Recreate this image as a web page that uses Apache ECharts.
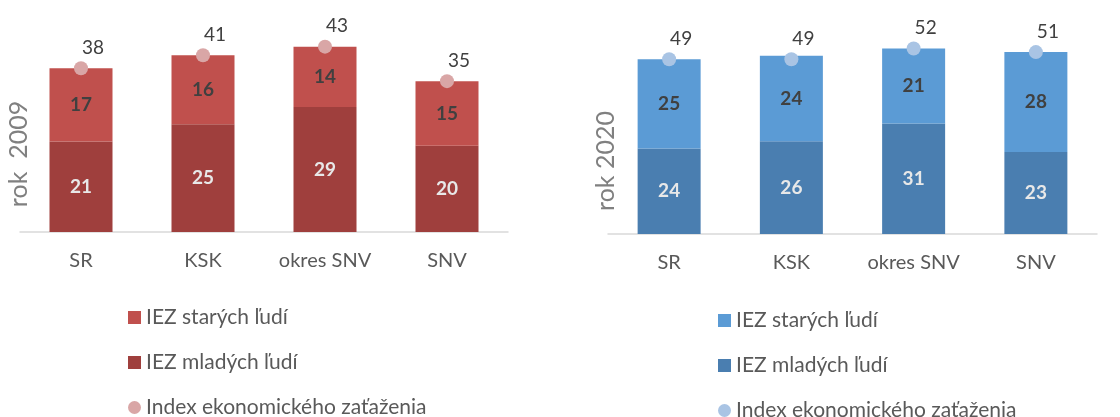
<!DOCTYPE html>
<html>
<head>
<meta charset="utf-8">
<script src="https://cdn.jsdelivr.net/npm/echarts@6/dist/echarts.min.js"></script>
<style>
  html, body { margin: 0; padding: 0; background: #fff; }
  #chart { width: 1120px; height: 417px; }
</style>
</head>
<body>
<div id="chart"></div>
<script>
// categories shared by both panels
const regions = ['SR', 'KSK', 'okres SNV', 'SNV']

// rok 2009
const old2009 = [17, 16, 14, 15]
const young2009 = [21, 25, 29, 20]
const index2009 = [38, 41, 43, 35]

// rok 2020
const old2020 = [25, 24, 21, 28]
const young2020 = [24, 26, 31, 23]
const index2020 = [49, 49, 52, 51]

const nameOld = 'IEZ starých ľudí'
const nameYoung = 'IEZ mladých ľudí'
const nameIndex = 'Index ekonomického zaťaženia'

const font = 'Lato, "Open Sans", sans-serif'

const chart = echarts.init(document.getElementById('chart'))

function xAxisFor(gridIndex) {
  return {
    type: 'category',
    gridIndex: gridIndex,
    data: regions,
    axisTick: { show: false },
    axisLine: { lineStyle: { color: '#d9d9d9', width: 1.5 } },
    axisLabel: { color: '#595959', fontSize: 20, fontFamily: font, margin: 19 }
  }
}

function yAxisFor(gridIndex, max) {
  return {
    type: 'value',
    gridIndex: gridIndex,
    min: 0,
    max: max,
    show: false
  }
}

// suffix keeps legend names of the two panels apart
function panelSeries(idx, suffix, oldData, youngData, indexData, cOld, cYoung, cDot) {
  return [
    {
      name: nameYoung + suffix,
      type: 'bar',
      stack: 'p' + idx,
      xAxisIndex: idx,
      yAxisIndex: idx,
      barWidth: 63,
      data: youngData,
      itemStyle: { color: cYoung },
      label: {
        show: true,
        position: 'inside',
        color: '#e8e8e8',
        fontWeight: 'bold',
        fontSize: 19,
        fontFamily: font
      }
    },
    {
      name: nameOld + suffix,
      type: 'bar',
      stack: 'p' + idx,
      xAxisIndex: idx,
      yAxisIndex: idx,
      barWidth: 63,
      data: oldData,
      itemStyle: { color: cOld },
      label: {
        show: true,
        position: 'inside',
        color: '#404040',
        fontWeight: 'bold',
        fontSize: 19,
        fontFamily: font
      }
    },
    {
      name: nameIndex + suffix,
      type: 'scatter',
      xAxisIndex: idx,
      yAxisIndex: idx,
      symbol: 'circle',
      symbolSize: 14,
      z: 5,
      data: indexData,
      itemStyle: { color: cDot, opacity: 1 },
      label: {
        show: true,
        position: 'top',
        distance: 4,
        offset: [12, 0],
        color: '#404040',
        fontSize: 19,
        fontFamily: font
      }
    }
  ]
}

function legendFor(suffix, left, top) {
  return {
    orient: 'vertical',
    left: left,
    top: top,
    height: 140,
    itemWidth: 13,
    itemHeight: 13,
    itemGap: 20,
    selectedMode: false,
    data: [
      { name: nameOld + suffix, icon: 'rect' },
      { name: nameYoung + suffix, icon: 'rect' },
      { name: nameIndex + suffix, icon: 'circle' }
    ],
    formatter: n => n.trim(),
    textStyle: { color: '#595959', fontSize: 21, fontFamily: font, lineHeight: 25 }
  }
}

function yearTitle(text, x, y) {
  return {
    type: 'text',
    x: x,
    y: y,
    rotation: Math.PI / 2,
    style: {
      text: text,
      fill: '#808080',
      fontSize: 25,
      fontFamily: 'Lato',
      textAlign: 'center',
      textVerticalAlign: 'middle'
    }
  }
}

chart.setOption({
  animation: false,
  grid: [
    { left: 20, top: 16.5, width: 488, height: 215.5 },
    { left: 608, top: 20, width: 489, height: 214 }
  ],
  xAxis: [xAxisFor(0), xAxisFor(1)],
  yAxis: [yAxisFor(0, 50), yAxisFor(1, 60)],
  legend: [
    legendFor('', 123, 300),
    legendFor(' ', 713, 303)
  ],
  graphic: [
    yearTitle('rok  2009', 19, 154),
    yearTitle('rok 2020', 606, 161)
  ],
  series: [].concat(
    panelSeries(0, '', old2009, young2009, index2009, '#c0504d', '#9f3f3d', '#d9a6a6'),
    panelSeries(1, ' ', old2020, young2020, index2020, '#5b9bd5', '#4a7eb0', '#a9c4e4')
  )
})
</script>
</body>
</html>
